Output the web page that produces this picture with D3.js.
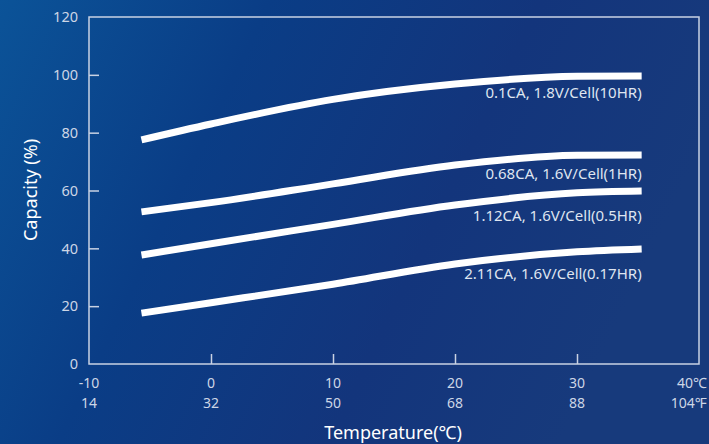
<!DOCTYPE html>
<html><head><meta charset="utf-8">
<script src="https://cdn.jsdelivr.net/npm/d3@7"></script>
<style>html,body{margin:0;padding:0;overflow:hidden;background:#0d3f88}</style>
</head><body>
<svg id="c" width="709" height="444"></svg>
<script>
const temps = [-5.7, 0, 10, 20, 30, 35.3];
const seriesNames = ["0.1CA, 1.8V/Cell(10HR)", "0.68CA, 1.6V/Cell(1HR)", "1.12CA, 1.6V/Cell(0.5HR)", "2.11CA, 1.6V/Cell(0.17HR)"];
const s1 = [77.5, 83.0, 91.5, 96.8, 99.5, 99.6];
const s2 = [52.6, 55.8, 62.3, 68.8, 72.2, 72.3];
const s3 = [37.7, 41.6, 48.3, 55.0, 59.2, 59.8];
const s4 = [17.6, 21.2, 27.6, 34.6, 38.8, 39.8];
const xTicksC = ["-10", "0", "10", "20", "30", "40℃"];
const xTicksF = ["14", "32", "50", "68", "88", "104℉"];
const xTickVals = [-10, 0, 10, 20, 30, 40];
const yTicks = [0, 20, 40, 60, 80, 100, 120];

const svg = d3.select("#c");
const W = 709, H = 444;
const defs = svg.append("defs");
const g1 = defs.append("linearGradient").attr("id","bg").attr("x1","0").attr("y1","0").attr("x2","1").attr("y2","0.3");
g1.append("stop").attr("offset","0").attr("stop-color","#0b5398");
g1.append("stop").attr("offset","0.35").attr("stop-color","#0a3d86");
g1.append("stop").attr("offset","0.7").attr("stop-color","#13357c");
g1.append("stop").attr("offset","1").attr("stop-color","#173a7c");
svg.append("rect").attr("width",W).attr("height",H).attr("fill","url(#bg)");

const L = 89, R = 699, T = 17, B = 364;
const x = d3.scaleLinear().domain([-10, 40]).range([L, R]);
const y = d3.scaleLinear().domain([0, 120]).range([B, T]);
const axisCol = "#c9d2e3", textCol = "#cdd6e6";

// frame
svg.append("rect").attr("x",L).attr("y",T).attr("width",R-L).attr("height",B-T)
  .attr("fill","none").attr("stroke",axisCol).attr("stroke-width",1.5);

// y axis
const ya = svg.append("g").attr("transform",`translate(${L},0)`)
  .call(d3.axisRight(y).tickValues(yTicks).tickSize(10).tickFormat(""));
ya.select(".domain").remove();
ya.selectAll("line").attr("stroke",axisCol).attr("stroke-width",1.5)
  .filter(d => d === 0 || d === 120).remove();
svg.selectAll(".ylab").data(yTicks).join("text")
  .attr("x", L - 11).attr("y", d => y(d)).attr("dy","0.36em")
  .attr("text-anchor","end").attr("fill",textCol)
  .style("font","14.5px 'Noto Sans', sans-serif").text(d => d);

// x axis
const xa = svg.append("g").attr("transform",`translate(0,${B})`)
  .call(d3.axisTop(x).tickValues(xTickVals).tickSize(10).tickFormat(""));
xa.select(".domain").remove();
xa.selectAll("line").attr("stroke",axisCol).attr("stroke-width",1.5)
  .filter(d => d === -10 || d === 40).remove();
const xl = svg.append("g").style("font","14px 'Noto Sans', sans-serif").attr("fill",textCol);
const last = xTickVals.length - 1;
xl.selectAll(".c").data(xTicksC).join("text")
  .attr("x", (d,i) => i === last ? W - 2 : x(xTickVals[i])).attr("y", 388)
  .attr("text-anchor", (d,i) => i === last ? "end" : "middle")
  .text(d => d);
xl.selectAll(".f").data(xTicksF).join("text")
  .attr("x", (d,i) => i === last ? W - 2 : x(xTickVals[i])).attr("y", 408)
  .attr("text-anchor", (d,i) => i === last ? "end" : "middle")
  .text(d => d);

// axis titles
svg.append("text").attr("x", 393).attr("y", 439).attr("text-anchor","middle")
  .attr("fill","#ffffff").style("font","18px 'Noto Sans', sans-serif").text("Temperature(℃)");
svg.append("text").attr("transform","translate(37,190) rotate(-90)").attr("text-anchor","middle")
  .attr("fill","#ffffff").style("font","18px 'Noto Sans', sans-serif").text("Capacity (%)");

// lines
const all = [s1, s2, s3, s4];
const line = d3.line().x((d,i) => x(temps[i])).y(d => y(d)).curve(d3.curveMonotoneX);
svg.selectAll(".ln").data(all).join("path")
  .attr("d", line).attr("fill","none").attr("stroke","#ffffff").attr("stroke-width",7);

const labelOffsets = [22, 24, 30, 30];
svg.selectAll(".lb").data(all).join("text")
  .attr("x", x(temps[temps.length-1])).attr("y", (d,i) => y(d[d.length-1]) + labelOffsets[i])
  .attr("text-anchor","end").attr("fill","#dfe5f0")
  .style("font","15px 'Noto Sans', sans-serif")
  .text((d,i) => seriesNames[i]);
</script>
</body></html>
